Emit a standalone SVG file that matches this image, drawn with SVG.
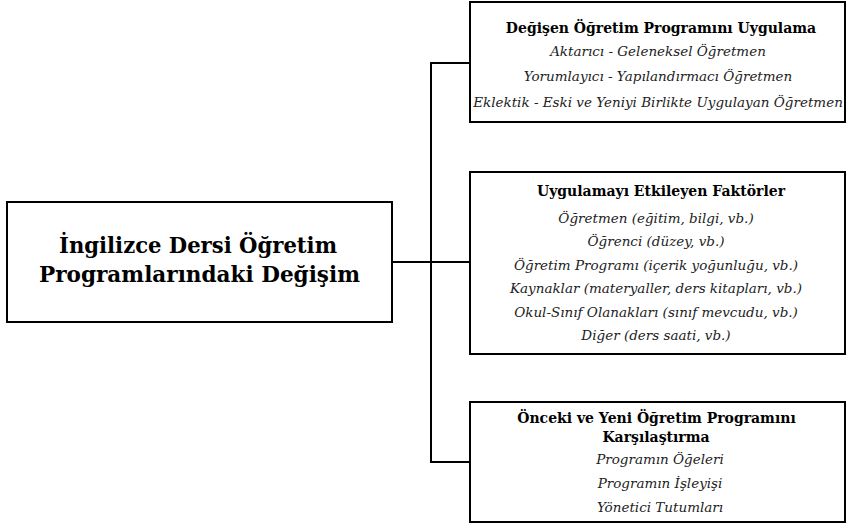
<svg xmlns="http://www.w3.org/2000/svg" width="848" height="525" viewBox="0 0 848 525">
<style>
.box{fill:#fff;stroke:#000;stroke-width:2}
.ln{fill:none;stroke:#000;stroke-width:2}
text{font-family:'DejaVu Serif',serif;fill:#000;text-anchor:middle}
.main{font-size:23px;font-weight:bold}
.t{font-size:14px;font-weight:bold}
.i{font-size:13.5px;font-style:italic;fill:#222}
</style>
<rect width="848" height="525" fill="#fff"/>
<g id="connectors">
<path class="ln" d="M392 262 H470"/>
<path class="ln" d="M470 63 H431 V462 H470"/>
</g>
<g id="center">
<rect class="box" x="7" y="202" width="385" height="120"/>
<text class="main" x="198" y="253" textLength="278" lengthAdjust="spacingAndGlyphs">İngilizce Dersi Öğretim</text>
<text class="main" x="199.5" y="282" textLength="321" lengthAdjust="spacingAndGlyphs">Programlarındaki Değişim</text>
</g>
<g id="node1">
<rect class="box" x="470" y="2" width="375" height="120"/>
<text class="t" x="661" y="33">Değişen Öğretim Programını Uygulama</text>
<text class="i" x="658" y="56">Aktarıcı - Geleneksel Öğretmen</text>
<text class="i" x="658" y="81">Yorumlayıcı - Yapılandırmacı Öğretmen</text>
<text class="i" x="658" y="107">Eklektik - Eski ve Yeniyi Birlikte Uygulayan Öğretmen</text>
</g>
<g id="node2">
<rect class="box" x="470" y="172" width="375" height="182"/>
<text class="t" x="661" y="196">Uygulamayı Etkileyen Faktörler</text>
<text class="i" x="656" y="223">Öğretmen (eğitim, bilgi, vb.)</text>
<text class="i" x="656" y="246">Öğrenci (düzey, vb.)</text>
<text class="i" x="656" y="270">Öğretim Programı (içerik yoğunluğu, vb.)</text>
<text class="i" x="656" y="293">Kaynaklar (materyaller, ders kitapları, vb.)</text>
<text class="i" x="656" y="317">Okul-Sınıf Olanakları (sınıf mevcudu, vb.)</text>
<text class="i" x="656" y="340">Diğer (ders saati, vb.)</text>
</g>
<g id="node3">
<rect class="box" x="470" y="402" width="375" height="120"/>
<text class="t" x="656.5" y="423">Önceki ve Yeni Öğretim Programını</text>
<text class="t" x="656" y="442">Karşılaştırma</text>
<text class="i" x="660" y="464">Programın Öğeleri</text>
<text class="i" x="660" y="488">Programın İşleyişi</text>
<text class="i" x="660" y="512">Yönetici Tutumları</text>
</g>
</svg>
